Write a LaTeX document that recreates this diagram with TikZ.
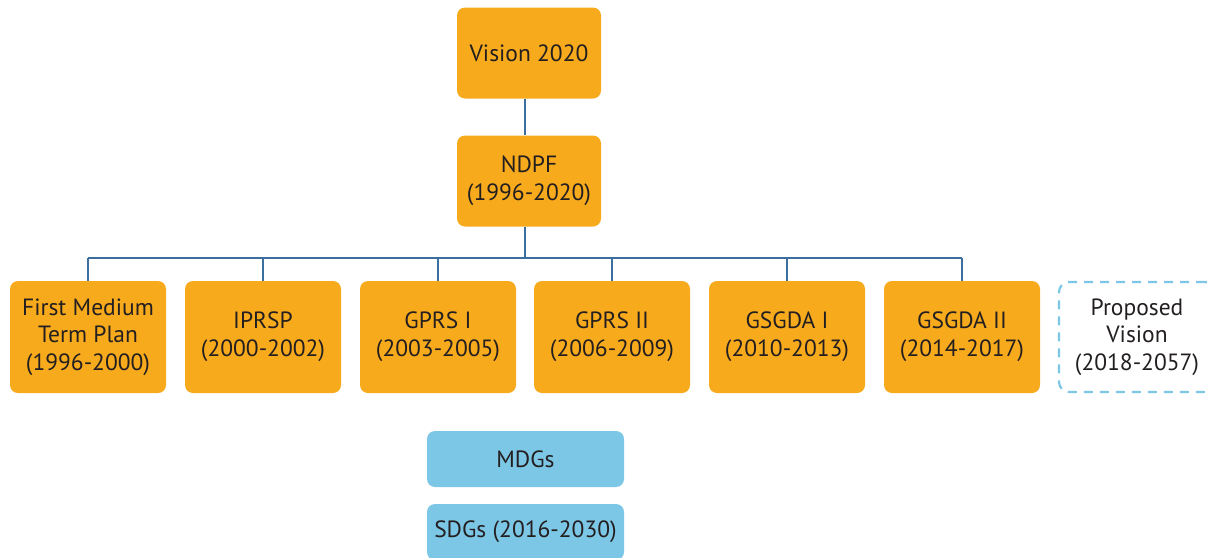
\documentclass[tikz,border=0pt]{standalone}
\usepackage{fontspec}
\setmainfont{PT Sans}
\definecolor{boxorange}{HTML}{F8AA1D}
\definecolor{boxblue}{HTML}{7DC7E6}
\definecolor{linkblue}{HTML}{3A6FA0}
\definecolor{txt}{HTML}{231F20}
\begin{document}
\begin{tikzpicture}[x=1pt,y=-1pt,
  tfont/.style={font=\fontsize{23.5}{27.7}\selectfont,text=txt,align=center,inner sep=0pt},
  obox/.style={tfont,fill=boxorange,rounded corners=8pt,minimum width=156pt,minimum height=112pt},
  tbox/.style={tfont,fill=boxorange,rounded corners=8pt,minimum width=144pt,minimum height=91pt},
  pbox/.style={tfont,draw=boxblue,dashed,dash pattern=on 9pt off 7pt,line width=2.2pt,rounded corners=10pt,
    minimum width=156pt,minimum height=110pt},
  bbox/.style={tfont,fill=boxblue,rounded corners=8pt,minimum width=197pt,minimum height=56pt},
  link/.style={draw=linkblue,line width=2.8pt}]
\useasboundingbox (0,0) rectangle (1207,557);
\node[tbox] (vis) at (529,53) {Vision 2020};
\node[tbox] (ndpf) at (529,181) {NDPF\\(1996-2020)};
\node[obox] (b1) at (88,337) {First Medium\\Term Plan\\(1996-2000)};
\node[obox] (b2) at (263,337) {IPRSP\\(2000-2002)};
\node[obox] (b3) at (438,337) {GPRS I\\(2003-2005)};
\node[obox] (b4) at (612,337) {GPRS II\\(2006-2009)};
\node[obox] (b5) at (787,337) {GSGDA I\\(2010-2013)};
\node[obox] (b6) at (962,337) {GSGDA II\\(2014-2017)};
\node[pbox] (pv) at (1137,337) {Proposed\\Vision\\(2018-2057)};
\node[bbox] (mdg) at (525.5,459) {MDGs};
\node[bbox] (sdg) at (525.5,532) {SDGs (2016-2030)};
\coordinate (bus) at (525,258);
\draw[link] ([xshift=-4pt]vis.south) -- ([xshift=-4pt]ndpf.north);
\draw[link] ([xshift=-4pt]ndpf.south) -- (bus);
\draw[link] (b1.north |- bus) -- (b6.north |- bus);
\foreach \b in {b1,b2,b3,b4,b5,b6}{
  \draw[link] (\b.north |- bus) -- (\b.north);
}
\end{tikzpicture}
\end{document}
